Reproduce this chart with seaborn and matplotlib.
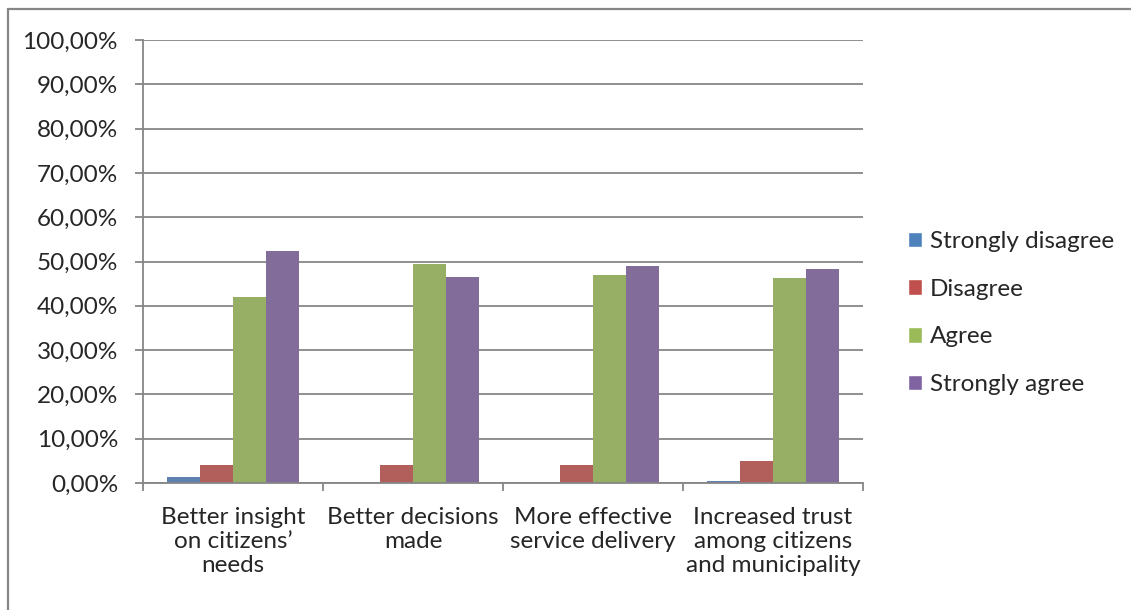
import matplotlib
matplotlib.use("Agg")

import pandas as pd
import matplotlib.pyplot as plt
import seaborn as sns
from matplotlib.patches import Patch
from matplotlib.ticker import FuncFormatter, FixedLocator

# ----------------------------------------------------
# Data (in percent)
# ----------------------------------------------------
categories = [
    "Better insight\non citizens’\nneeds",
    "Better decisions\nmade",
    "More effective\nservice delivery",
    "Increased trust\namong citizens\nand municipality",
]
answers = ["Strongly disagree", "Disagree", "Agree", "Strongly agree"]

strongly_disagree = [1.4, 0.0, 0.0, 0.5]
disagree = [4.0, 4.0, 4.0, 4.9]
agree = [42.0, 49.5, 47.0, 46.2]
strongly_agree = [52.4, 46.5, 49.0, 48.3]

colors = ["#4F81BD", "#C0504D", "#9BBB59", "#8064A2"]

rows = []
for answer, values in zip(answers, [strongly_disagree, disagree, agree, strongly_agree]):
    for cat, v in zip(categories, values):
        rows.append({"Category": cat, "Answer": answer, "Share": v / 100})
df = pd.DataFrame(rows)

# ----------------------------------------------------
# Plot
# ----------------------------------------------------
sns.set_style("white")
plt.rcParams["font.family"] = ["Lato", "DejaVu Sans"]
FS = 17.5

fig = plt.figure(figsize=(11.31, 6.10), dpi=100)
ax = fig.add_axes([143 / 1131, 1 - 483 / 610, 720 / 1131, 443 / 610])

sns.barplot(
    data=df, x="Category", y="Share", hue="Answer",
    order=categories, hue_order=answers, palette=colors,
    width=0.73, linewidth=0, ax=ax, legend=False,
)

grid_color = "#868686"
ax.set_ylim(0, 1)
ax.set_xlim(-0.5, 3.5)
ax.set_yticks([i / 10 for i in range(11)])
ax.yaxis.set_major_formatter(FuncFormatter(lambda v, _: f"{v * 100:.2f}%".replace(".", ",")))
ax.grid(axis="y", color=grid_color, linewidth=1.3)
ax.set_axisbelow(True)

for side in ["top", "right"]:
    ax.spines[side].set_visible(False)
for side in ["left", "bottom"]:
    ax.spines[side].set_color(grid_color)
    ax.spines[side].set_linewidth(1.3)

ax.xaxis.set_minor_locator(FixedLocator([-0.5, 0.5, 1.5, 2.5, 3.5]))
ax.tick_params(axis="x", which="major", length=0, pad=17, labelsize=FS)
ax.tick_params(axis="x", which="minor", length=6, width=1.3, color=grid_color, direction="out", bottom=True)
ax.tick_params(axis="y", length=6, width=1.3, color=grid_color, direction="out", left=True, pad=12, labelsize=FS)
for lbl in ax.get_xticklabels():
    lbl.set_multialignment("center")
    lbl.set_linespacing(1.18)

ax.set_xlabel("")
ax.set_ylabel("")

handles = [Patch(facecolor=c, label=a) for c, a in zip(colors, answers)]
fig.legend(
    handles=handles, loc="center left", bbox_to_anchor=(886 / 1131, 1 - 313 / 610),
    frameon=False, fontsize=FS, handlelength=0.6, handleheight=0.6,
    handletextpad=0.3, labelspacing=1.1,
)

# outer chart border (top and left visible)
fig.add_artist(plt.Line2D([8 / 1131, 8 / 1131], [0, 1 - 9 / 610], color=grid_color, linewidth=1.6, transform=fig.transFigure))
fig.add_artist(plt.Line2D([8 / 1131, 1], [1 - 9 / 610, 1 - 9 / 610], color=grid_color, linewidth=1.6, transform=fig.transFigure))

fig.savefig("out.png", dpi=100)
